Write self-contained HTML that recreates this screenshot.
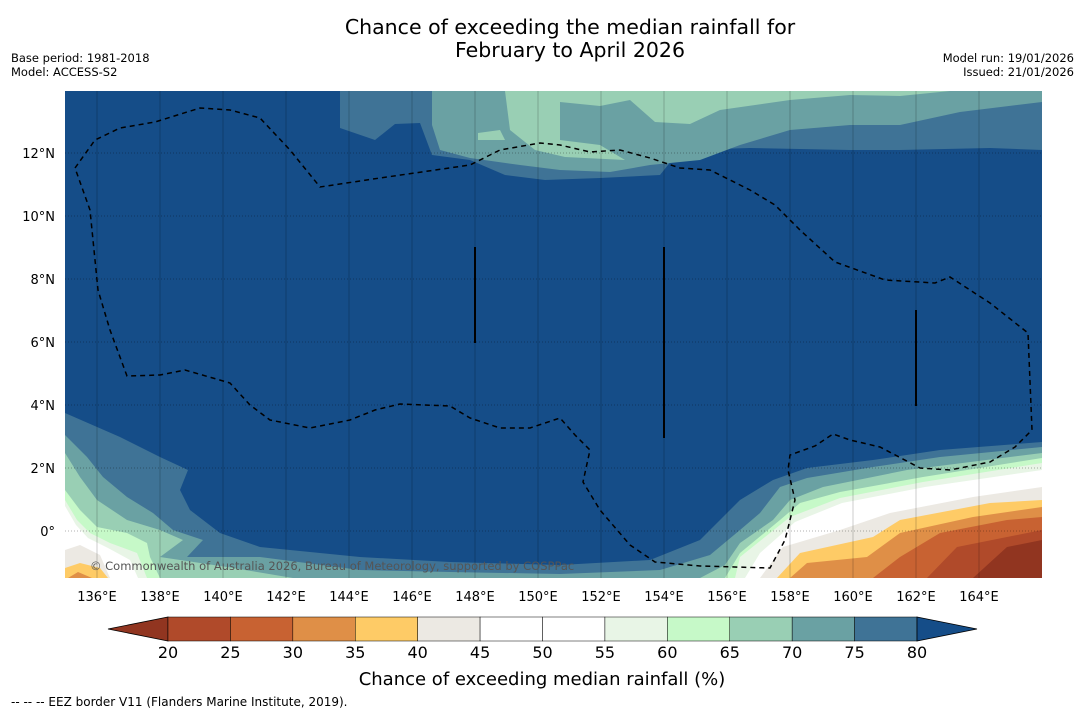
<!DOCTYPE html>
<html><head><meta charset="utf-8"><style>
body{margin:0;background:#fff;width:1085px;height:713px;overflow:hidden;font-family:"DejaVu Sans","Liberation Sans",sans-serif}
svg{position:absolute;left:0;top:0}
</style></head><body>
<svg id="s" width="1085" height="713" xmlns="http://www.w3.org/2000/svg">
<text x="570" y="34" font-size="20.5" text-anchor="middle">Chance of exceeding the median rainfall for</text>
<text x="570" y="57" font-size="20.5" text-anchor="middle">February to April 2026</text>
<text x="11" y="62" font-size="11.5">Base period: 1981-2018</text>
<text x="11" y="76" font-size="11.5">Model: ACCESS-S2</text>
<text x="1074" y="62" font-size="11.5" text-anchor="end">Model run: 19/01/2026</text>
<text x="1074" y="76" font-size="11.5" text-anchor="end">Issued: 21/01/2026</text>
<defs><clipPath id="mc"><rect x="65" y="91" width="977" height="487"/></clipPath></defs>
<g id="map" clip-path="url(#mc)">
<rect x="65" y="91" width="977" height="487" fill="#154d88"/>
</g>
<g id="axes"></g>
<g id="cbar"></g>
<text x="542" y="685" font-size="18" text-anchor="middle">Chance of exceeding median rainfall (%)</text>
<text x="11" y="706" font-size="12">--  --  -- EEZ border V11 (Flanders Marine Institute, 2019).</text>
</svg>
<script>
const NS="http://www.w3.org/2000/svg";
const binEdges=[20,25,30,35,40,45,50,55,60,65,70,75,80];
const binColors=["#b04a2a","#c86232","#df8f47","#fecb66","#ece9e3","#ffffff","#ffffff","#e8f5e6","#c6f9c8","#99cfb4","#6aa1a3","#3f7396"];
const underColor="#913520", overColor="#154d88";
const lonTicks=[136,138,140,142,144,146,148,150,152,154,156,158,160,162,164];
const latTicks=[0,2,4,6,8,10,12];
const lonX=l=>97+(l-136)*31.5;
const latY=l=>531-l*31.5;
const cbX=v=>168+(v-20)*(749/60);
function el(t,a,p){const e=document.createElementNS(NS,t);for(const k in a)e.setAttribute(k,a[k]);p.appendChild(e);return e;}
const map=document.getElementById('map'),axes=document.getElementById('axes'),cb=document.getElementById('cbar');
const layers=[
["#3f7396","340,91 340,128 375,140 395,124 420,123 432,155 470,160 505,175 545,180 600,178 660,175 680,150 750,148 850,150 900,150 990,148 1042,150 1042,91"],
["#6aa1a3","432,91 432,125 440,150 470,158 520,165 560,170 610,172 650,165 700,160 740,145 790,130 850,125 900,125 960,112 1042,102 1042,91"],
["#99cfb4","505,91 510,130 535,150 565,157 625,160 600,145 560,140 560,102 600,106 630,100 655,122 690,124 720,110 790,100 850,95 900,96 950,91"],
["#99cfb4","478,133 500,130 505,140 478,140"],
["#3f7396","65,413 120,437 160,457 188,470 180,490 190,510 220,533 260,547 360,557 450,562 560,565 650,560 700,540 740,500 773,480 807,468 873,460 940,450 1042,442 1042,578 65,578"],
["#6aa1a3","65,435 87,457 103,477 127,497 153,513 173,530 203,540 187,557 260,557 360,570 450,572 560,574 660,570 710,555 740,530 760,513 780,487 807,478 873,467 940,457 1042,447 1042,578 65,578"],
["#99cfb4","65,453 80,477 97,500 127,520 160,530 183,540 160,557 227,567 293,578 700,578 725,565 740,543 773,520 790,500 823,487 907,470 1042,453 1042,578 65,578"],
["#c6f9c8","65,490 80,510 97,527 127,533 147,543 150,557 160,578 725,578 740,553 780,520 800,503 840,492 923,477 1042,458 1042,578 65,578"],
["#e8f5e6","65,500 77,520 90,533 110,543 137,553 147,578 735,578 740,557 790,517 840,498 923,482 1042,463 1042,578 65,578"],
["#ffffff","65,506 76,525 88,538 108,548 130,560 138,578 745,578 760,553 795,522 842,503 925,487 1042,470 1042,578 65,578"],
["#ece9e3","760,578 783,547 840,530 890,513 973,497 1042,487 1042,578"],
["#fecb66","777,578 800,553 873,537 900,520 990,503 1042,500 1042,578"],
["#df8f47","790,578 807,563 867,557 900,533 973,517 1042,507 1042,578"],
["#c86232","873,578 900,557 940,533 1007,520 1042,517 1042,578"],
["#b04a2a","927,578 957,547 1042,530 1042,578"],
["#913520","973,578 1007,547 1042,540 1042,578"],
["#ece9e3","65,550 80,545 100,555 110,578 65,578"],
["#fecb66","65,568 80,563 100,568 108,578 65,578"],
["#df8f47","68,578 78,572 92,578"]
];
layers.forEach((L,i)=>{const p=el('polygon',{points:L[1],fill:L[0]},map);

});
lonTicks.forEach(l=>{const g=el('line',{x1:lonX(l),x2:lonX(l),y1:91,y2:578,stroke:'#000','stroke-opacity':0.2,'stroke-width':1},map);

});
latTicks.forEach(l=>{const g=el('line',{x1:65,x2:1042,y1:latY(l),y2:latY(l),stroke:'#000','stroke-opacity':0.3,'stroke-dasharray':'1 2'},map);

});
[[475,247,343],[664,247,438],[916,310,406]].forEach(b=>{const g=el('line',{x1:b[0],x2:b[0],y1:b[1],y2:b[2],stroke:'#000','stroke-width':2},map);

});
const eez="75,168 95,140 120,128 155,122 200,108 230,110 260,118 290,150 320,187 380,178 470,165 500,150 540,143 560,145 590,152 620,150 650,158 680,168 710,170 750,190 775,205 800,230 835,262 885,280 935,283 950,277 990,303 1028,333 1032,430 1015,447 990,462 950,470 920,468 880,447 850,440 833,434 815,446 790,455 788,470 795,500 785,540 770,568 700,566 655,562 630,545 600,510 583,482 590,450 575,435 560,418 530,428 500,428 470,418 450,406 400,404 375,410 350,420 310,428 270,420 250,405 230,383 185,370 160,375 127,376 110,330 98,290 90,210 75,168";
const e=el('polyline',{points:eez,fill:'none',stroke:'#000','stroke-width':1.5,'stroke-dasharray':'5 4'},map);


const c=el('text',{x:90,y:570,'font-size':11.5,fill:'#555'},map);c.textContent="© Commonwealth of Australia 2026, Bureau of Meteorology, supported by COSPPac";


lonTicks.forEach(l=>{const t=el('text',{x:lonX(l),y:601,'font-size':13,'text-anchor':'middle'},axes);t.textContent=l+'°E';

});
latTicks.forEach(l=>{const t=el('text',{x:55,y:latY(l)+5,'font-size':13,'text-anchor':'end'},axes);t.textContent=l===0?'0°':l+'°N';

});
const under=el('polygon',{points:`108,629 ${cbX(20)},617 ${cbX(20)},641`,fill:underColor,stroke:'#000','stroke-width':0.8},cb);


binColors.forEach((col,i)=>{const r=el('rect',{x:cbX(binEdges[i]),y:617,width:cbX(binEdges[i+1])-cbX(binEdges[i]),height:24,fill:col,stroke:'#000','stroke-width':0.5},cb);

});
const over=el('polygon',{points:`${cbX(80)},617 977,629 ${cbX(80)},641`,fill:overColor,stroke:'#000','stroke-width':0.8},cb);


binEdges.forEach(v=>{const t=el('text',{x:cbX(v),y:658,'font-size':16,'text-anchor':'middle'},cb);t.textContent=v;

});
</script>
</body></html>
